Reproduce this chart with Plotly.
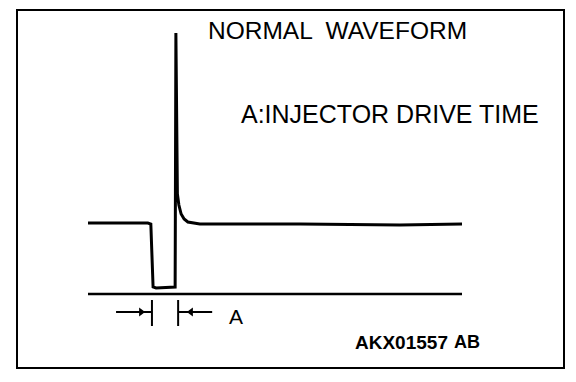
import plotly.graph_objects as go

# Waveform data (time in ms, voltage in V)
time_ms = [0.0, 1.60, 1.68, 1.74, 1.82, 2.33, 2.35, 2.39, 2.43, 2.49, 2.57, 2.67, 2.99, 5.67, 8.34, 10.0]
volts = [14.2, 14.2, 14.0, 1.4, 1.2, 1.4, 52.2, 20.0, 17.8, 16.0, 15.0, 14.4, 14.0, 14.0, 13.8, 14.0]

# Ground reference line
ground_t = [0.0, 10.0]
ground_v = [0.0, 0.0]

# Injector drive time markers
drive_start_ms = 1.71
drive_end_ms = 2.41
arrow_left_t = [0.75, drive_start_ms]
arrow_right_t = [drive_end_ms, 3.32]
arrow_v = -3.6
tick_v = [-1.2, -6.4]
arrowhead_t = [1.42, 2.75]

title_text = "NORMAL  WAVEFORM"
legend_text = "A:INJECTOR DRIVE TIME"
label_a = "A"
code_text = "AKX01557"
code_suffix = "AB"

W, H = 576, 382
FONT = "Liberation Sans, Arial, Helvetica, sans-serif"

fig = go.Figure()

fig.add_trace(go.Scatter(x=time_ms, y=volts, mode="lines",
                         line=dict(color="black", width=3), hoverinfo="skip"))
fig.add_trace(go.Scatter(x=ground_t, y=ground_v, mode="lines",
                         line=dict(color="black", width=2.5), hoverinfo="skip"))
fig.add_trace(go.Scatter(x=arrow_left_t, y=[arrow_v, arrow_v], mode="lines",
                         line=dict(color="black", width=2), hoverinfo="skip"))
fig.add_trace(go.Scatter(x=arrow_right_t, y=[arrow_v, arrow_v], mode="lines",
                         line=dict(color="black", width=2), hoverinfo="skip"))
fig.add_trace(go.Scatter(x=[drive_start_ms, drive_start_ms], y=tick_v, mode="lines",
                         line=dict(color="black", width=2), hoverinfo="skip"))
fig.add_trace(go.Scatter(x=[drive_end_ms, drive_end_ms], y=tick_v, mode="lines",
                         line=dict(color="black", width=2), hoverinfo="skip"))
fig.add_trace(go.Scatter(x=arrowhead_t, y=[arrow_v, arrow_v], mode="markers",
                         marker=dict(symbol=["triangle-right", "triangle-left"], size=8,
                                     color="black"), hoverinfo="skip"))

# border frame
fig.add_shape(type="rect", xref="paper", yref="paper",
              x0=17 / W, x1=564 / W, y0=1 - 368 / H, y1=1 - 10 / H,
              line=dict(color="black", width=2), fillcolor="rgba(0,0,0,0)")

def ann(text, px, py, size, bold=False, xanchor="center"):
    t = f"<b>{text}</b>" if bold else text
    fig.add_annotation(x=px / W, y=1 - py / H, xref="paper", yref="paper",
                       text=t, showarrow=False, xanchor=xanchor, yanchor="middle",
                       font=dict(family=FONT, size=size, color="black"))

ann(title_text, 337, 30, 24.5)
ann(legend_text, 390, 114, 25)
ann(label_a, 236, 316, 21)
ann(code_text, 401, 342, 19, bold=True)
ann(code_suffix, 467, 342, 18, bold=True)

fig.update_xaxes(range=[-88 / 37.4, (W - 88) / 37.4], visible=False)
fig.update_yaxes(range=[-(H - 294) / 5, 294 / 5], visible=False)
fig.update_layout(width=W, height=H, margin=dict(l=0, r=0, t=0, b=0),
                  paper_bgcolor="white", plot_bgcolor="white", showlegend=False)

fig.write_html("out.html", config={"displayModeBar": False, "staticPlot": True},
               post_script="document.body.style.margin='0';document.body.style.overflow='hidden';")
